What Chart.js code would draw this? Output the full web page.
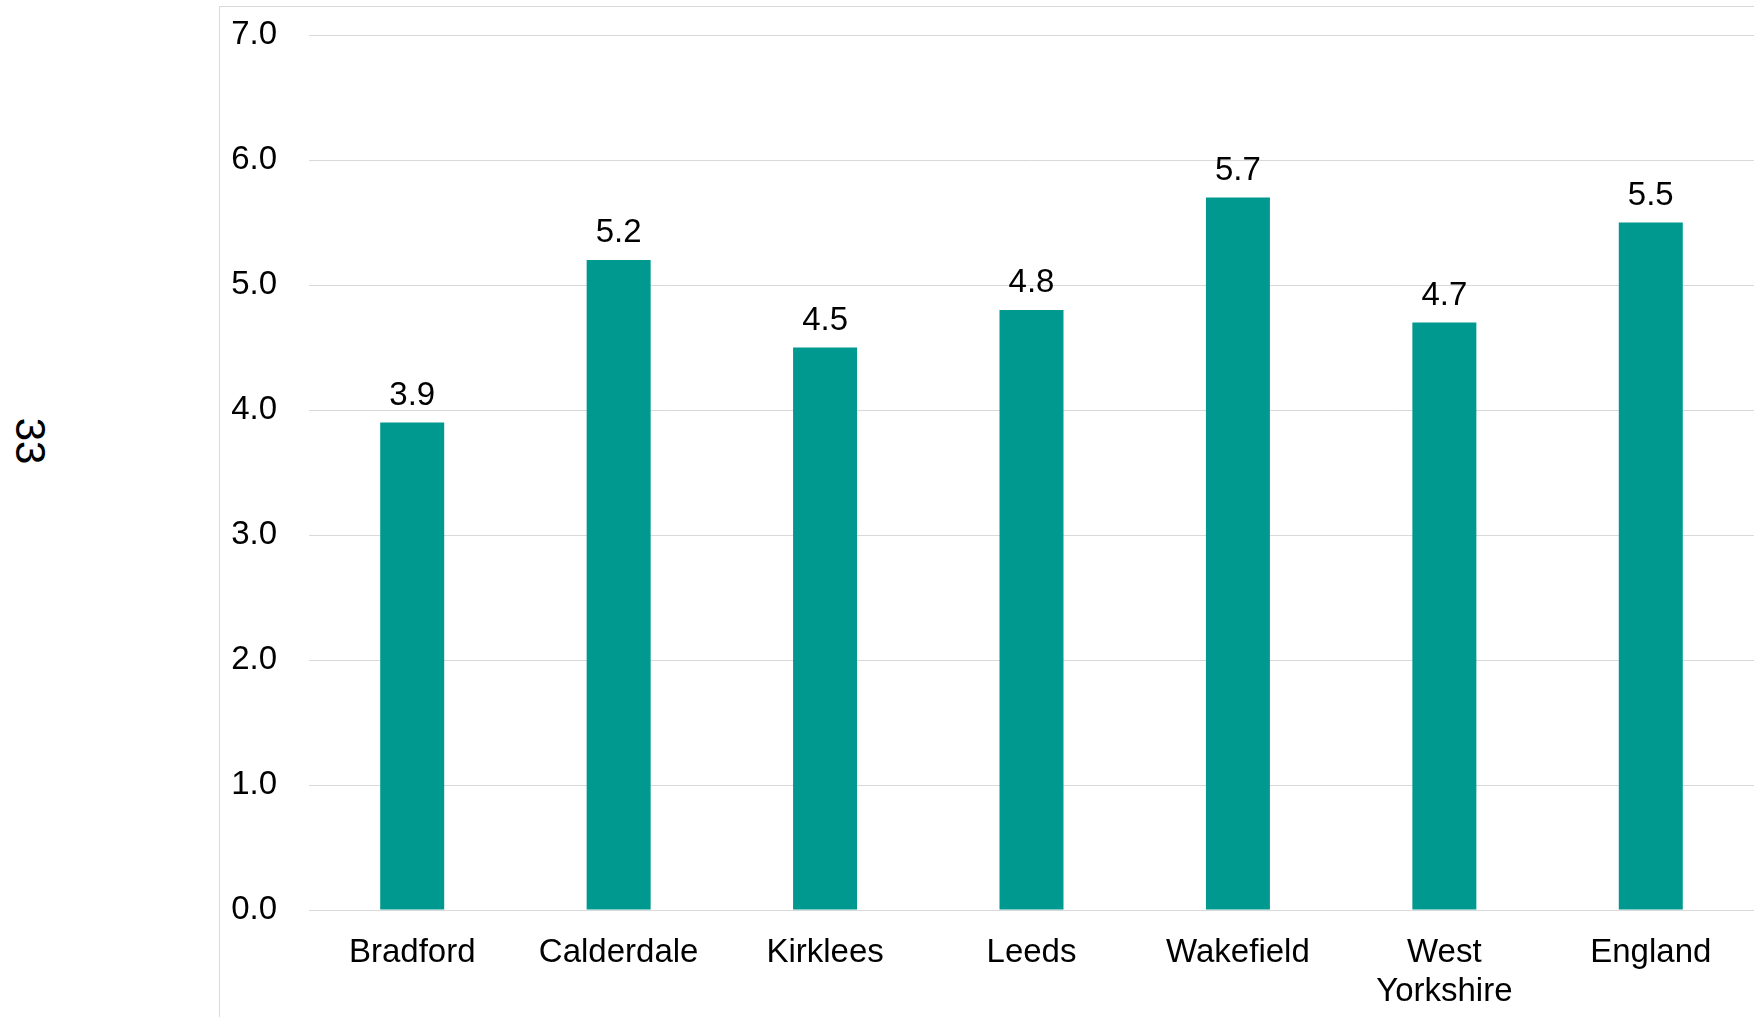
<!DOCTYPE html>
<html>
<head>
<meta charset="utf-8">
<script src="https://cdn.jsdelivr.net/npm/chart.js@4"></script>
<style>
body{margin:0;background:#fff;font-family:"Liberation Sans",Arial,sans-serif}
#wrap{position:relative;width:1754px;height:1017px;overflow:hidden}
#frame{position:absolute;left:219px;top:6px;width:1600px;height:1100px;border-left:1px solid #d9d9d9;border-top:1px solid #d9d9d9}
#page{position:absolute;left:30px;top:441px;transform:translate(-50%,-50%) rotate(90deg);font-size:42px;color:#000;white-space:nowrap}
canvas{position:absolute;left:0;top:0}
</style>
</head>
<body>
<div id="wrap">
<div id="frame"></div>
<div id="page">33</div>
<canvas id="rateChart" width="1754" height="1017"></canvas>
</div>
<script>
// areas and rates
const areas = ['Bradford','Calderdale','Kirklees','Leeds','Wakefield',['West','Yorkshire'],'England']
const rates = [3.9,5.2,4.5,4.8,5.7,4.7,5.5]
const yTicks = [0,1,2,3,4,5,6,7]

const FONT = {family:'"Liberation Sans", Arial, sans-serif', size:33}

// value above each bar
const barLabels = {
id:'barLabels',
afterDatasetsDraw(chart){
const c = chart.ctx
const meta = chart.getDatasetMeta(0)
c.save()
c.font = '33px "Liberation Sans", Arial, sans-serif'
c.fillStyle = '#000'
c.textAlign = 'center'
c.textBaseline = 'alphabetic'
meta.data.forEach((bar,i)=>{
c.fillText(rates[i].toFixed(1), bar.x, bar.y - 18)
})
c.restore()
}
}

const ctx = document.getElementById('rateChart')

new Chart(ctx,{
type:'bar',
data:{
labels:areas,
datasets:[{
data:rates,
backgroundColor:'#00998F',
barPercentage:0.31,
categoryPercentage:1
}]
},
options:{
responsive:false,
animation:false,
layout:{padding:{top:35,right:0,left:0,bottom:0}},
plugins:{legend:{display:false},tooltip:{enabled:false}},
scales:{
x:{
grid:{display:false,drawTicks:false},
border:{display:true,color:'#d9d9d9',width:1},
ticks:{color:'#000',font:FONT,padding:23,maxRotation:0,autoSkip:false},
afterFit(s){s.height = 107}
},
y:{
min:0,
max:7,
grid:{color:'#d9d9d9',lineWidth:1,drawTicks:false},
border:{display:false},
afterBuildTicks(s){s.ticks = yTicks.map(v=>({value:v}))},
ticks:{color:'#000',font:FONT,padding:32,callback:v=>Number(v).toFixed(1)},
afterFit(s){
s.width = 309
s.paddingTop = 0
s.paddingBottom = 0
}
}
}
},
plugins:[barLabels]
})
</script>
</body>
</html>
